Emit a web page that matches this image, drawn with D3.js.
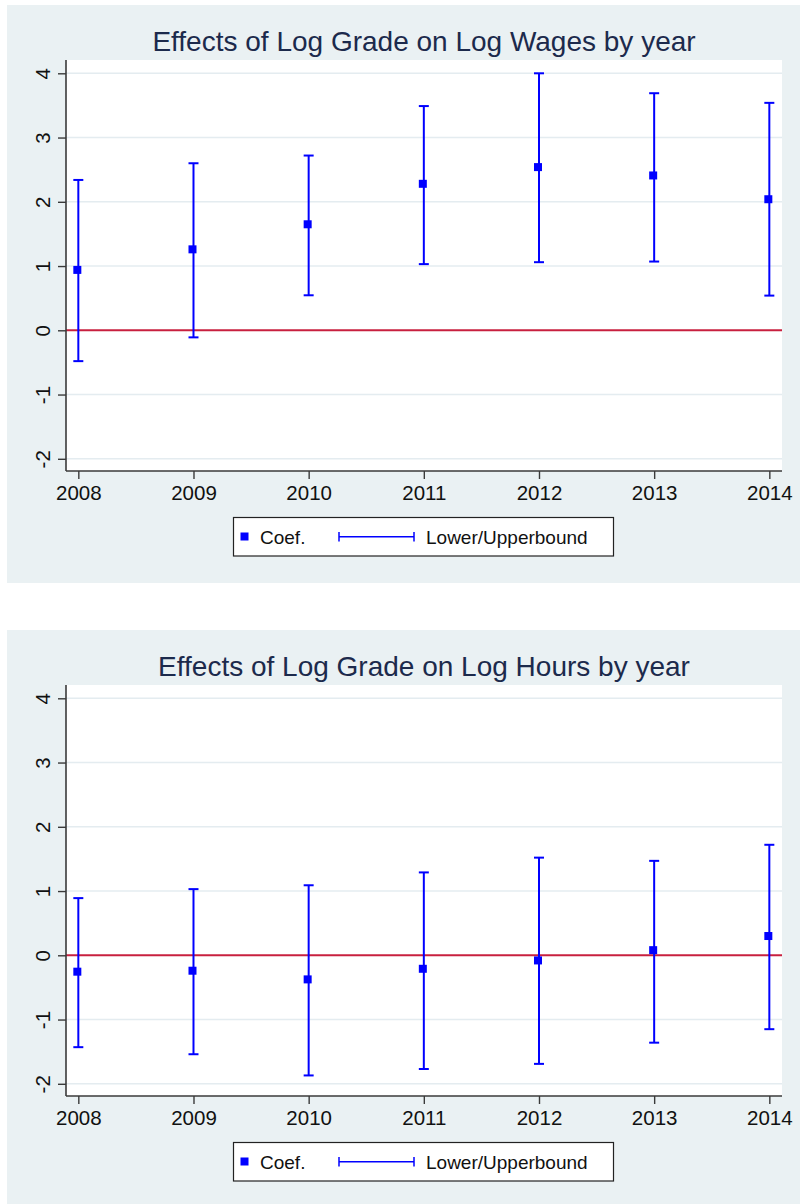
<!DOCTYPE html>
<html><head><meta charset="utf-8">
<script src="https://cdn.jsdelivr.net/npm/d3@7"></script>
<style>body{margin:0;background:#fff}svg{display:block}</style>
</head><body>
<script>
const years = [2008, 2009, 2010, 2011, 2012, 2013, 2014];
const yTicks = [-2, -1, 0, 1, 2, 3, 4];
const titles = ["Effects of Log Grade on Log Wages by year", "Effects of Log Grade on Log Hours by year"];
const legendLabels = ["Coef.", "Lower/Upperbound"];

const wagesCoef  = [0.94, 1.26, 1.65, 2.28, 2.54, 2.41, 2.04];
const wagesLower = [-0.48, -0.11, 0.545, 1.03, 1.06, 1.07, 0.54];
const wagesUpper = [2.34, 2.60, 2.72, 3.49, 4.00, 3.69, 3.54];

const hoursCoef  = [-0.255, -0.24, -0.375, -0.21, -0.08, 0.08, 0.30];
const hoursLower = [-1.43, -1.54, -1.87, -1.77, -1.69, -1.36, -1.15];
const hoursUpper = [0.89, 1.03, 1.09, 1.29, 1.52, 1.47, 1.72];

const panels = [
  {title: titles[0], coef: wagesCoef, lo: wagesLower, hi: wagesUpper, dy: 0},
  {title: titles[1], coef: hoursCoef, lo: hoursLower, hi: hoursUpper, dy: 625}
];

const W = 800, H = 1204;
const svg = d3.select("body").append("svg").attr("width", W).attr("height", H);
svg.append("rect").attr("width", W).attr("height", H).attr("fill", "#fff");

const font = "'Liberation Sans', Arial, Helvetica, sans-serif";
const blue = "#0000ff";
const pl = 66, pr = 782, pt = 60, pb = 471;

const x = d3.scaleLinear().domain([2007.893, 2014.11]).range([pl, pr]);
const y = d3.scaleLinear().domain([-2.19, 4.207]).range([pb, pt]);

panels.forEach(p => {
  const g = svg.append("g").attr("transform", `translate(0,${p.dy})`);
  g.append("rect").attr("x", 7).attr("y", 5).attr("width", 793).attr("height", 578).attr("fill", "#eaf1f3");
  g.append("rect").attr("x", pl).attr("y", pt).attr("width", pr - pl).attr("height", pb - pt).attr("fill", "#fff");

  // title
  g.append("text").attr("x", (pl + pr) / 2).attr("y", 51).attr("text-anchor", "middle")
    .attr("font-family", font).attr("font-size", 28).attr("fill", "#1c2a4c").text(p.title);

  // grid
  g.selectAll(".grid").data(yTicks.filter(t => t !== 0)).enter().append("line")
    .attr("x1", pl).attr("x2", pr).attr("y1", d => y(d)).attr("y2", d => y(d))
    .attr("stroke", "#e4ecf0").attr("stroke-width", 1.5);

  // zero line
  g.append("line").attr("x1", pl).attr("x2", pr).attr("y1", y(0)).attr("y2", y(0))
    .attr("stroke", "#c8203f").attr("stroke-width", 2);

  // y axis
  const ya = g.append("g").attr("transform", `translate(${pl},0)`)
    .call(d3.axisLeft(y).tickValues(yTicks).tickSize(8).tickSizeOuter(0).tickFormat(d => String(d)));
  ya.select(".domain").attr("stroke", "#3a3a3a").attr("stroke-width", 1.6).attr("d", `M0,${pt}V${pb}`);
  ya.selectAll(".tick line").attr("stroke", "#3a3a3a").attr("stroke-width", 1.4);
  ya.selectAll(".tick text").attr("font-family", font).attr("font-size", 20.5).attr("fill", "#111")
    .attr("x", null).attr("dy", null).attr("text-anchor", "middle")
    .attr("transform", "translate(-16,0) rotate(-90)");

  // x axis
  const xa = g.append("g").attr("transform", `translate(0,${pb})`)
    .call(d3.axisBottom(x).tickValues(years).tickSize(8).tickSizeOuter(0).tickFormat(d => String(d)));
  xa.select(".domain").attr("stroke", "#3a3a3a").attr("stroke-width", 1.6).attr("d", `M${pl},0H${pr}`);
  xa.selectAll(".tick line").attr("stroke", "#3a3a3a").attr("stroke-width", 1.4);
  xa.selectAll(".tick text").attr("font-family", font).attr("font-size", 20.5).attr("fill", "#111")
    .attr("y", 14).attr("dy", "0.71em");

  // error bars
  const bars = g.append("g").selectAll("g").data(years).enter().append("g");
  bars.append("line").attr("x1", d => x(d)).attr("x2", d => x(d))
    .attr("y1", (d, i) => y(p.lo[i])).attr("y2", (d, i) => y(p.hi[i]))
    .attr("stroke", blue).attr("stroke-width", 2);
  bars.append("line").attr("x1", d => x(d) - 5).attr("x2", d => x(d) + 5)
    .attr("y1", (d, i) => y(p.hi[i])).attr("y2", (d, i) => y(p.hi[i]))
    .attr("stroke", blue).attr("stroke-width", 2);
  bars.append("line").attr("x1", d => x(d) - 5).attr("x2", d => x(d) + 5)
    .attr("y1", (d, i) => y(p.lo[i])).attr("y2", (d, i) => y(p.lo[i]))
    .attr("stroke", blue).attr("stroke-width", 2);

  // markers
  g.append("g").selectAll("rect").data(years).enter().append("rect")
    .attr("x", d => x(d) - 5).attr("y", (d, i) => y(p.coef[i]) - 4)
    .attr("width", 8).attr("height", 8).attr("fill", blue);

  // legend
  const lg = g.append("g");
  lg.append("rect").attr("x", 233.5).attr("y", 517.5).attr("width", 380).attr("height", 38.5)
    .attr("fill", "#fff").attr("stroke", "#222").attr("stroke-width", 1.2);
  lg.append("rect").attr("x", 240.5).attr("y", 532.5).attr("width", 8).attr("height", 8).attr("fill", blue);
  lg.append("text").attr("x", 260).attr("y", 543.5).attr("font-family", font).attr("font-size", 19)
    .attr("fill", "#111").text(legendLabels[0]);
  lg.append("line").attr("x1", 339).attr("x2", 414).attr("y1", 536.7).attr("y2", 536.7)
    .attr("stroke", blue).attr("stroke-width", 1.5);
  [339, 414].forEach(xx => lg.append("line").attr("x1", xx).attr("x2", xx)
    .attr("y1", 532).attr("y2", 541.5).attr("stroke", blue).attr("stroke-width", 1.5));
  lg.append("text").attr("x", 426).attr("y", 543.5).attr("font-family", font).attr("font-size", 19)
    .attr("fill", "#111").text(legendLabels[1]);
});
</script>
</body></html>
